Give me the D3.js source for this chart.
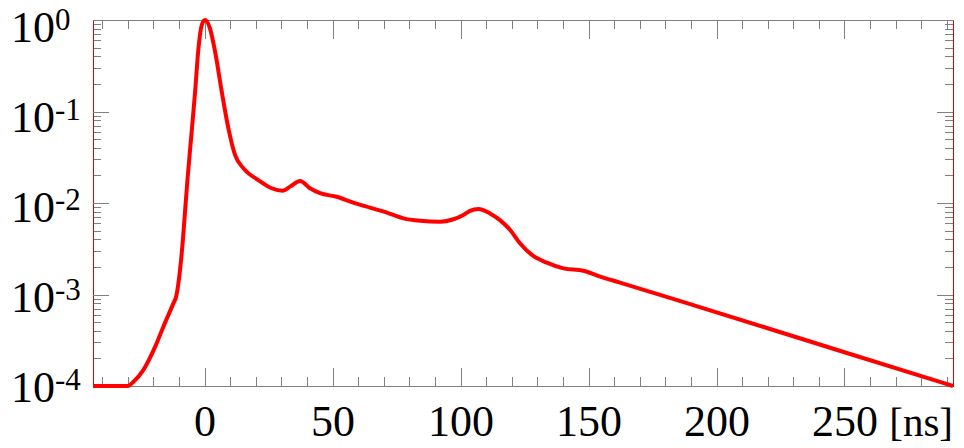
<!DOCTYPE html>
<html>
<head>
<meta charset="utf-8">
<script src="https://cdn.jsdelivr.net/npm/d3@7"></script>
<style>
  body { margin: 0; background: #fff; overflow: hidden; }
  svg { display: block; }
  .axis text { font-family: "Liberation Serif", "Times New Roman", serif; fill: #000; }
</style>
</head>
<body>
<div id="chart"></div>
<script>
/*
Pulse shape, log scale
*/

// Time axis in ns, and the normalised amplitude read at each time
const TIME_NS = [
  -43.6, -30, -27.8, -23.9, -19.3, -16.1, -12.2, -11.1, -9.6, -8.5, -7.6, -6.7,
  -5.2, -3.7, -2.4, -1.1, 0.2, 2.1, 4.1, 6.7, 9.3, 11.9, 15.2, 21, 26.2, 30.5,
  33.4, 37.3, 41.2, 45.1, 51.6, 58.1, 64.6, 71.2, 77.7, 84.2, 92, 97.2, 101.1,
  103.7, 107, 111.5, 115.4, 119.3, 123.2, 128.4, 133.7, 140.2, 148, 154.5, 162.3,
  190, 220, 250, 292.4,
];
const AMPLITUDE = [
  1e-4, 1e-4, 1.11e-4, 1.5e-4, 2.69e-4, 4.45e-4, 8.0e-4, 9.5e-4, 1.85e-3, 3.9e-3,
  8.4e-3, 0.0178, 0.054, 0.165, 0.49, 0.88, 1.0, 0.81, 0.45, 0.165, 0.0655,
  0.0335, 0.0239, 0.0178, 0.0145, 0.0136, 0.0151, 0.0174, 0.0145, 0.0128, 0.0117,
  0.0101, 0.0089, 0.00784, 0.0068, 0.0064, 0.00625, 0.00664, 0.0074, 0.0082,
  0.0086, 0.0077, 0.0065, 0.0051, 0.00363, 0.00264, 0.00223, 0.00193, 0.00182,
  0.00157, 0.00135, 7.8e-4, 4.28e-4, 2.34e-4, 1e-4,
];

// Axis ticks and labels
const X_DOMAIN = [-43.6, 292.4];
const X_MAJOR = [0, 50, 100, 150, 200, 250];
const X_MINOR = d3.range(-40, 291, 10).filter((d) => d % 50 !== 0);
const X_UNIT = "[ns]";
const Y_DOMAIN = [1e-4, 1];
const Y_EXPONENTS = [0, -1, -2, -3, -4];

const config = {
  WIDTH: 964,
  HEIGHT: 448,
  PAD: { top: 20, right: 11, bottom: 62, left: 93 },
  FONT_SIZE: 44,
  UNIT_SIZE: 41,
  SUP_SIZE: 31,
  X_MAJOR_TICK: 19,
  X_MINOR_TICK: 9,
  Y_MAJOR_TICK: 16,
  Y_MINOR_TICK: 8,
  AXIS_COLOR: "#808080",
  SPINE_COLOR: "#e00000",
  LINE_COLOR: "#ff0000",
  LINE_WIDTH: 4,
};

const innerWidth = config.WIDTH - config.PAD.left - config.PAD.right;
const innerHeight = config.HEIGHT - config.PAD.top - config.PAD.bottom;

const svg = d3
  .select("#chart")
  .append("svg")
  .attr("width", config.WIDTH)
  .attr("height", config.HEIGHT);

const x = d3.scaleLinear().domain(X_DOMAIN).range([0, innerWidth]);
const y = d3.scaleLog().domain(Y_DOMAIN).range([innerHeight, 0]);

const g = svg
  .append("g")
  .attr("transform", `translate(${config.PAD.left},${config.PAD.top})`);

// Minor y ticks: 2..9 in every decade
const yMinor = y.ticks().filter((d) => Math.abs(Math.log10(d) % 1) > 1e-6);
const yMajor = Y_EXPONENTS.map((e) => Math.pow(10, e));

function styleAxis(sel, domainColor) {
  sel.attr("shape-rendering", "crispEdges");
  sel.selectAll(".tick line").attr("stroke", config.AXIS_COLOR);
  sel.select(".domain").attr("stroke", domainColor);
  // Tick-only axes leave empty text nodes behind
  sel.selectAll(".tick text").filter(function () {
    return !this.textContent;
  }).remove();
}

// Top axis - ticks only, pointing inward
g.append("g")
  .attr("class", "axis")
  .call(d3.axisTop(x).tickValues(X_MINOR).tickSize(-config.X_MINOR_TICK).tickSizeOuter(0).tickFormat(""))
  .call(styleAxis, config.AXIS_COLOR);
g.append("g")
  .attr("class", "axis")
  .call(d3.axisTop(x).tickValues(X_MAJOR).tickSize(-config.X_MAJOR_TICK).tickSizeOuter(0).tickFormat(""))
  .call(styleAxis, config.AXIS_COLOR);

// Bottom axis with labels
g.append("g")
  .attr("class", "axis")
  .attr("transform", `translate(0,${innerHeight})`)
  .call(d3.axisBottom(x).tickValues(X_MINOR).tickSize(-config.X_MINOR_TICK).tickSizeOuter(0).tickFormat(""))
  .call(styleAxis, config.AXIS_COLOR);
const gxMajor = g
  .append("g")
  .attr("class", "axis")
  .attr("transform", `translate(0,${innerHeight})`)
  .call(
    d3
      .axisBottom(x)
      .tickValues(X_MAJOR)
      .tickSize(-config.X_MAJOR_TICK + 1)
      .tickSizeOuter(0)
      .tickFormat(d3.format("d")),
  )
  .call(styleAxis, config.AXIS_COLOR);
// Place labels by baseline so the box stays inside the picture
gxMajor
  .selectAll(".tick text")
  .attr("font-size", config.FONT_SIZE)
  .attr("y", 50)
  .attr("dy", null);

// Unit label sits at the right end of the x axis
gxMajor
  .append("text")
  .attr("x", innerWidth)
  .attr("y", 50)
  .attr("text-anchor", "end")
  .attr("font-size", config.UNIT_SIZE)
  .text(X_UNIT);

// Left and right spines carry the log ticks
for (const side of ["left", "right"]) {
  const make = side === "left" ? d3.axisLeft : d3.axisRight;
  const tx = side === "left" ? 0 : innerWidth;
  const gy = g
    .append("g")
    .attr("class", "axis")
    .attr("transform", `translate(${tx},0)`);
  gy.append("g")
    .call(make(y).tickValues(yMinor).tickSize(-config.Y_MINOR_TICK).tickSizeOuter(0).tickFormat(""))
    .call(styleAxis, config.SPINE_COLOR);
  gy.append("g")
    .call(make(y).tickValues(yMajor).tickSize(-config.Y_MAJOR_TICK).tickSizeOuter(0).tickFormat(""))
    .call(styleAxis, config.SPINE_COLOR);
}

// Y labels: 10 with a superscript exponent. They sit a little tighter than the ticks
const yLabel = d3
  .scaleLog()
  .domain(Y_DOMAIN)
  .range([401.7, 42]);

const labels = svg
  .append("g")
  .attr("class", "axis")
  .selectAll("text")
  .data(yMajor)
  .join("text")
  .attr("x", 11)
  .attr("y", (d) => yLabel(d))
  .attr("font-size", config.FONT_SIZE);
labels.append("tspan").text("10");
labels
  .append("tspan")
  .attr("font-size", config.SUP_SIZE)
  .attr("dy", -12)
  .text((d) => String(Math.round(Math.log10(d))));

// The pulse
const line = d3
  .line()
  .x((i) => x(TIME_NS[i]))
  .y((i) => y(AMPLITUDE[i]))
  .curve(d3.curveMonotoneX);

g.append("path")
  .datum(d3.range(TIME_NS.length))
  .attr("fill", "none")
  .attr("stroke", config.LINE_COLOR)
  .attr("stroke-width", config.LINE_WIDTH)
  .attr("stroke-linejoin", "round")
  .attr("d", line);
</script>
</body>
</html>
